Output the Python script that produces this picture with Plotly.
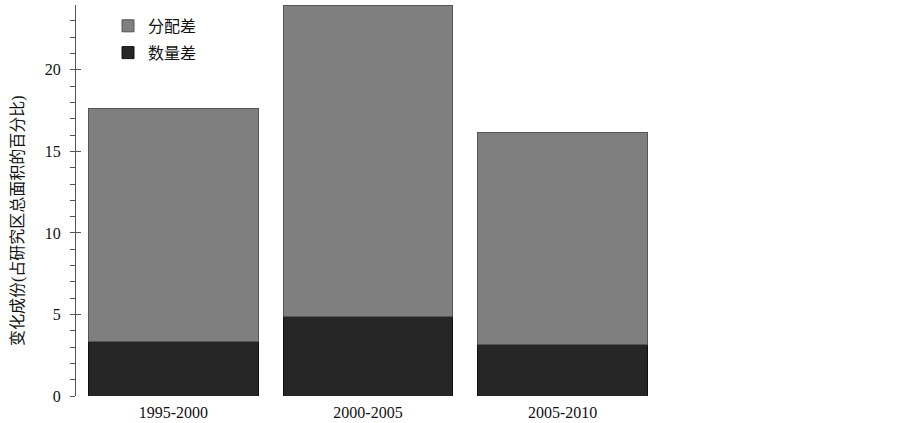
import plotly.graph_objects as go

categories = ["1995-2000", "2000-2005", "2005-2010"]
quantity_diff = [3.33, 4.87, 3.17]        # 数量差
allocation_diff = [14.32, 19.08, 13.01]   # 分配差
y_title = "变化成份(占研究区总面积的百分比)"

FONT = "Liberation Serif, Times New Roman, Noto Sans CJK SC, serif"

fig = go.Figure()
fig.add_trace(go.Bar(
    x=categories, y=quantity_diff, name="数量差", legendgroup="q", legendrank=2,
    marker=dict(color="#262626", line=dict(color="#111111", width=1)),
))
fig.add_trace(go.Bar(
    x=categories, y=allocation_diff, name="分配差", legendgroup="a", legendrank=1,
    marker=dict(color="#7f7f7f", line=dict(color="#555555", width=1)),
))
# empty helper trace so the overlaying axis (inner halves of major ticks) is drawn
fig.add_trace(go.Scatter(x=[], y=[], yaxis="y2", showlegend=False, hoverinfo="skip"))

fig.update_layout(
    width=903, height=423,
    margin=dict(l=76, r=243, t=5, b=27, autoexpand=False),
    barmode="stack", bargap=0.128,
    plot_bgcolor="white", paper_bgcolor="white",
    font=dict(family=FONT, size=16, color="#111111"),
    showlegend=True,
    legend=dict(x=0.0548, y=0.99, xanchor="left", yanchor="top",
                traceorder="grouped", tracegroupgap=3,
                bgcolor="rgba(0,0,0,0)", font=dict(size=16, family=FONT)),
    xaxis=dict(range=[-0.5, 2.5], showline=False, ticks="", showgrid=False,
               zeroline=False, tickfont=dict(size=16), automargin=False,
               ticklabelstandoff=5),
    yaxis=dict(range=[0, 23.98], dtick=5, tick0=0, ticks="outside", ticklen=5,
               tickwidth=1, tickcolor="#555555", showline=True, linecolor="#555555",
               linewidth=1, showgrid=False, zeroline=False, automargin=False,
               ticklabelstandoff=6, tickfont=dict(size=16),
               minor=dict(dtick=1, ticks="outside", ticklen=5, tickcolor="#555555",
                          showgrid=False)),
    yaxis2=dict(range=[0, 23.98], dtick=5, tick0=0, ticks="inside", ticklen=5,
                tickwidth=1, tickcolor="#555555", overlaying="y", side="left",
                anchor="x", showticklabels=False, showline=False, showgrid=False,
                zeroline=False, automargin=False),
    annotations=[dict(text=y_title, textangle=-90, xref="paper", yref="paper",
                      x=-0.0993, y=0.4476, xanchor="center", yanchor="middle",
                      showarrow=False, font=dict(size=16, family=FONT))],
)

fig.write_html("out.html", config={"displayModeBar": False},
               post_script="document.body.style.margin='0';document.body.style.padding='0';")
